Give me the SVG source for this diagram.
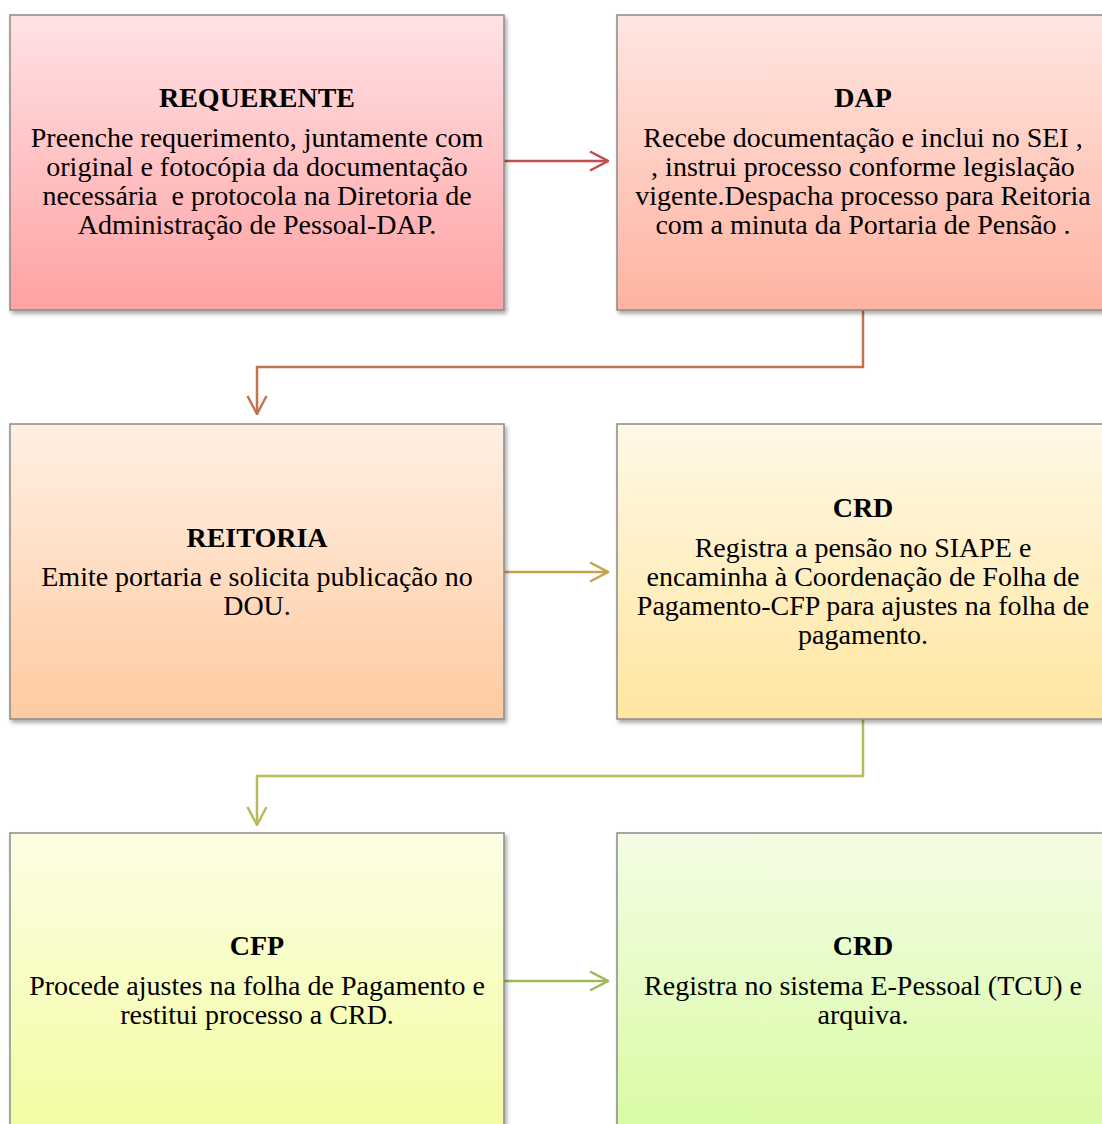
<svg xmlns="http://www.w3.org/2000/svg" width="1102" height="1124" viewBox="0 0 1102 1124">
<defs>
<linearGradient id="g1" x1="0" y1="0" x2="0" y2="1"><stop offset="0" stop-color="#ffe2e5"/><stop offset="1" stop-color="#ffa2a3"/></linearGradient>
<linearGradient id="g2" x1="0" y1="0" x2="0" y2="1"><stop offset="0" stop-color="#ffe6e1"/><stop offset="1" stop-color="#ffb3a1"/></linearGradient>
<linearGradient id="g3" x1="0" y1="0" x2="0" y2="1"><stop offset="0" stop-color="#fff0e4"/><stop offset="1" stop-color="#ffcaa0"/></linearGradient>
<linearGradient id="g4" x1="0" y1="0" x2="0" y2="1"><stop offset="0" stop-color="#fff8e6"/><stop offset="1" stop-color="#ffe6a0"/></linearGradient>
<linearGradient id="g5" x1="0" y1="0" x2="0" y2="1"><stop offset="0" stop-color="#fdfee4"/><stop offset="1" stop-color="#f3fca2"/></linearGradient>
<linearGradient id="g6" x1="0" y1="0" x2="0" y2="1"><stop offset="0" stop-color="#f4fde5"/><stop offset="1" stop-color="#d9fba4"/></linearGradient>
<filter id="sh" x="-5%" y="-5%" width="115%" height="115%"><feDropShadow dx="2" dy="3" stdDeviation="2" flood-color="#000" flood-opacity="0.35"/></filter>
<marker id="a1" viewBox="0 0 20 22" refX="19" refY="11" markerWidth="20" markerHeight="22" markerUnits="userSpaceOnUse" orient="auto"><polyline points="1,1.5 19,11 1,20.5" fill="none" stroke="#c0504d" stroke-width="2.5"/></marker>
<marker id="a2" viewBox="0 0 20 22" refX="19" refY="11" markerWidth="20" markerHeight="22" markerUnits="userSpaceOnUse" orient="auto"><polyline points="1,1.5 19,11 1,20.5" fill="none" stroke="#c2744f" stroke-width="2.5"/></marker>
<marker id="a3" viewBox="0 0 20 22" refX="19" refY="11" markerWidth="20" markerHeight="22" markerUnits="userSpaceOnUse" orient="auto"><polyline points="1,1.5 19,11 1,20.5" fill="none" stroke="#c8a04e" stroke-width="2.5"/></marker>
<marker id="a4" viewBox="0 0 20 22" refX="19" refY="11" markerWidth="20" markerHeight="22" markerUnits="userSpaceOnUse" orient="auto"><polyline points="1,1.5 19,11 1,20.5" fill="none" stroke="#b6ba58" stroke-width="2.5"/></marker>
<marker id="a5" viewBox="0 0 20 22" refX="19" refY="11" markerWidth="20" markerHeight="22" markerUnits="userSpaceOnUse" orient="auto"><polyline points="1,1.5 19,11 1,20.5" fill="none" stroke="#9bbb59" stroke-width="2.5"/></marker>
</defs>
<style>
.box{stroke:#8a8a8a;stroke-width:1.5;filter:url(#sh)}
text{font-family:"Liberation Serif","Times New Roman",serif;fill:#000;text-anchor:middle}
.t{font-size:28px;font-weight:bold}
.b{font-size:28px}
.c{fill:none;stroke-width:2.5}
</style>
<rect width="1102" height="1124" fill="#fff"/>
<g id="connectors">
<line class="c" x1="504" y1="161" x2="608" y2="161" stroke="#c0504d" marker-end="url(#a1)"/>
<polyline class="c" points="863,310 863,367 257,367 257,414" stroke="#c2744f" marker-end="url(#a2)"/>
<line class="c" x1="504" y1="572" x2="608" y2="572" stroke="#c8a04e" marker-end="url(#a3)"/>
<polyline class="c" points="863,719 863,776 257,776 257,825" stroke="#b6ba58" marker-end="url(#a4)"/>
<line class="c" x1="504" y1="981" x2="608" y2="981" stroke="#9bbb59" marker-end="url(#a5)"/>
</g>
<g id="requerente">
<rect class="box" x="10" y="15" width="494" height="295" fill="url(#g1)"/>
<text class="t" x="257" y="107">REQUERENTE</text>
<text class="b" x="257" y="147">Preenche requerimento, juntamente com</text>
<text class="b" x="257" y="176">original e fotocópia da documentação</text>
<text class="b" x="257" y="205" xml:space="preserve">necessária  e protocola na Diretoria de</text>
<text class="b" x="257" y="234">Administração de Pessoal-DAP.</text>
</g>
<g id="dap">
<rect class="box" x="617" y="15" width="494" height="295" fill="url(#g2)"/>
<text class="t" x="863" y="107">DAP</text>
<text class="b" x="863" y="147">Recebe documentação e inclui no SEI ,</text>
<text class="b" x="863" y="176">, instrui processo conforme legislação</text>
<text class="b" x="863" y="205">vigente.Despacha processo para Reitoria</text>
<text class="b" x="863" y="234">com a minuta da Portaria de Pensão .</text>
</g>
<g id="reitoria">
<rect class="box" x="10" y="424" width="494" height="295" fill="url(#g3)"/>
<text class="t" x="257" y="547">REITORIA</text>
<text class="b" x="257" y="586">Emite portaria e solicita publicação no</text>
<text class="b" x="257" y="615">DOU.</text>
</g>
<g id="crd1">
<rect class="box" x="617" y="424" width="494" height="295" fill="url(#g4)"/>
<text class="t" x="863" y="517">CRD</text>
<text class="b" x="863" y="557">Registra a pensão no SIAPE e</text>
<text class="b" x="863" y="586">encaminha à Coordenação de Folha de</text>
<text class="b" x="863" y="615">Pagamento-CFP para ajustes na folha de</text>
<text class="b" x="863" y="644">pagamento.</text>
</g>
<g id="cfp">
<rect class="box" x="10" y="833" width="494" height="295" fill="url(#g5)"/>
<text class="t" x="257" y="955">CFP</text>
<text class="b" x="257" y="995">Procede ajustes na folha de Pagamento e</text>
<text class="b" x="257" y="1024">restitui processo a CRD.</text>
</g>
<g id="crd2">
<rect class="box" x="617" y="833" width="494" height="295" fill="url(#g6)"/>
<text class="t" x="863" y="955">CRD</text>
<text class="b" x="863" y="995">Registra no sistema E-Pessoal (TCU) e</text>
<text class="b" x="863" y="1024">arquiva.</text>
</g>
</svg>
